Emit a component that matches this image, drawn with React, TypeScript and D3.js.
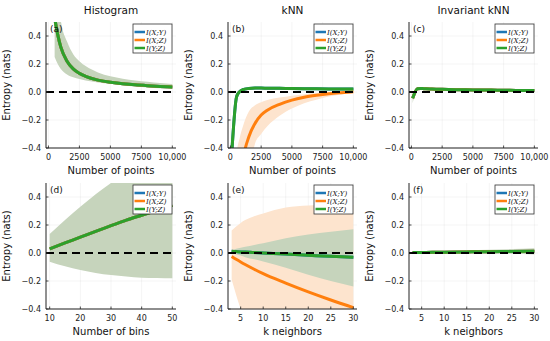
import React from 'react';
import * as d3 from 'd3';

// ---- data ----
const histN = [500, 750, 1000, 1500, 2000, 2500, 3000, 4000, 5000, 6000, 7000, 8000, 9000, 10000];
const histMean = [0.53, 0.41, 0.32, 0.22, 0.165, 0.133, 0.112, 0.085, 0.069, 0.059, 0.051, 0.045, 0.04, 0.036];
const histLo = [0.25, 0.2, 0.165, 0.125, 0.105, 0.092, 0.082, 0.068, 0.059, 0.049, 0.04, 0.033, 0.027, 0.021];
const histHi = [0.95, 0.7, 0.51, 0.36, 0.27, 0.22, 0.185, 0.14, 0.112, 0.095, 0.083, 0.073, 0.064, 0.057];

const knnN = [100, 500, 750, 1000, 1500, 2000, 2500, 3000, 4000, 5000, 6000, 7000, 8000, 9000, 10000];
const knnYZ = [-0.45, -0.035, 0.002, 0.016, 0.025, 0.028, 0.028, 0.027, 0.026, 0.025, 0.024, 0.023, 0.022, 0.021, 0.021];
const knnYZLo = [-0.55, -0.065, -0.008, 0.006, 0.016, 0.02, 0.021, 0.02, 0.02, 0.019, 0.018, 0.017, 0.016, 0.015, 0.015];
const knnYZHi = [-0.35, -0.005, 0.012, 0.026, 0.034, 0.036, 0.035, 0.034, 0.032, 0.031, 0.03, 0.029, 0.028, 0.027, 0.027];
const knnXZ = [-3, -1.0, -0.7, -0.5, -0.32, -0.225, -0.165, -0.13, -0.088, -0.058, -0.038, -0.024, -0.013, -0.005, 0.002];
const knnXZLo = [-4, -1.6, -1.2, -0.9, -0.6, -0.37, -0.3, -0.245, -0.17, -0.118, -0.08, -0.055, -0.033, -0.018, -0.006];
const knnXZHi = [-2, -0.45, -0.33, -0.25, -0.14, -0.095, -0.074, -0.058, -0.04, -0.026, -0.016, -0.008, -0.002, 0.003, 0.006];

const invN = [100, 500, 750, 1000, 1500, 2000, 2500, 3000, 4000, 5000, 6000, 7000, 8000, 9000, 10000];
const invYZ = [-0.045, 0.024, 0.025, 0.024, 0.022, 0.02, 0.019, 0.018, 0.016, 0.015, 0.014, 0.013, 0.012, 0.011, 0.01];
const invYZLo = [-0.08, 0.014, 0.017, 0.016, 0.014, 0.012, 0.011, 0.01, 0.008, 0.007, 0.006, 0.005, 0.004, 0.003, 0.002];
const invYZHi = [-0.01, 0.034, 0.033, 0.032, 0.03, 0.028, 0.027, 0.026, 0.024, 0.023, 0.022, 0.021, 0.02, 0.019, 0.018];

const bins = [10, 15, 20, 25, 30, 35, 40, 45, 50];
const binsYZ = [0.03, 0.072, 0.113, 0.155, 0.195, 0.235, 0.27, 0.305, 0.34];
const binsLo = [-0.062, -0.095, -0.121, -0.142, -0.157, -0.168, -0.176, -0.179, -0.181];
const binsHi = [0.135, 0.235, 0.33, 0.42, 0.5, 0.57, 0.63, 0.68, 0.72];

const kVals = [3, 4, 5, 6, 8, 10, 15, 20, 25, 30];
const kXZ = [-0.025, -0.045, -0.064, -0.082, -0.116, -0.148, -0.215, -0.278, -0.336, -0.39];
const kXZLo = [-0.19, -0.3, -0.4, -0.47, -0.58, -0.66, -0.8, -0.9, -0.98, -1.05];
const kXZHi = [0.16, 0.19, 0.215, 0.235, 0.263, 0.283, 0.325, 0.34, 0.345, 0.343];
const kYZ = [0.012, 0.01, 0.008, 0.007, 0.003, 0.0, -0.008, -0.016, -0.024, -0.03];
const kYZLo = [0.0, -0.01, -0.018, -0.03, -0.045, -0.06, -0.105, -0.155, -0.2, -0.24];
const kYZHi = [0.02, 0.03, 0.038, 0.045, 0.058, 0.07, 0.105, 0.133, 0.152, 0.17];

const invKYZ = [0.003, 0.003, 0.004, 0.004, 0.005, 0.006, 0.008, 0.009, 0.011, 0.012];
const invKYZLo = [-0.002, -0.003, -0.002, -0.003, -0.003, -0.003, -0.003, -0.005, -0.006, -0.01];
const invKYZHi = [0.008, 0.009, 0.01, 0.011, 0.013, 0.015, 0.019, 0.023, 0.028, 0.034];

const nTicks = [0, 2500, 5000, 7500, 10000];
const nTickLabels = ['0', '2500', '5000', '7500', '10,000'];
const binTicks = [10, 20, 30, 40, 50];
const kTicks = [5, 10, 15, 20, 25, 30];
const yTicks = [-0.4, -0.2, 0, 0.2, 0.4];
const yTickLabels = ['\u22120.4', '\u22120.2', '0.0', '0.2', '0.4'];
const legendNames = ['I(X;Y)', 'I(X;Z)', 'I(Y;Z)'];

const BLUE = '#1f77b4';
const ORANGE = '#ff7f0e';
const GREEN = '#2ca02c';
const PEACH = '#fde4ce';
const SAGE = '#c6d4bc';
const FONT = 'DejaVu Sans, sans-serif';

const cols = [{ left: 46, right: 176 }, { left: 228, right: 357 }, { left: 409, right: 538 }];
const rows = [{ top: 22, bottom: 148 }, { top: 183, bottom: 309 }];

type Series = { x: number[]; mean: number[]; lo?: number[]; hi?: number[]; color: string; fill?: string };
type PanelDef = {
  id: string; label: string; col: number; row: number; title?: string; xlabel: string;
  xDomain: [number, number]; xTicks: number[]; xTickLabels: string[]; series: Series[];
};

const panels: PanelDef[] = [
  {
    id: 'a', label: '(a)', col: 0, row: 0, title: 'Histogram', xlabel: 'Number of points',
    xDomain: [-197, 10297], xTicks: nTicks, xTickLabels: nTickLabels,
    series: [
      { x: histN, mean: histMean, color: BLUE },
      { x: histN, mean: histMean, color: ORANGE },
      { x: histN, mean: histMean, lo: histLo, hi: histHi, color: GREEN, fill: SAGE },
    ],
  },
  {
    id: 'b', label: '(b)', col: 1, row: 0, title: 'kNN', xlabel: 'Number of points',
    xDomain: [-197, 10297], xTicks: nTicks, xTickLabels: nTickLabels,
    series: [
      { x: knnN, mean: knnYZ, color: BLUE },
      { x: knnN, mean: knnXZ, lo: knnXZLo, hi: knnXZHi, color: ORANGE, fill: PEACH },
      { x: knnN, mean: knnYZ, lo: knnYZLo, hi: knnYZHi, color: GREEN, fill: SAGE },
    ],
  },
  {
    id: 'c', label: '(c)', col: 2, row: 0, title: 'Invariant kNN', xlabel: 'Number of points',
    xDomain: [-197, 10297], xTicks: nTicks, xTickLabels: nTickLabels,
    series: [
      { x: invN, mean: invYZ, color: BLUE },
      { x: invN, mean: invYZ, color: ORANGE },
      { x: invN, mean: invYZ, lo: invYZLo, hi: invYZHi, color: GREEN, fill: SAGE },
    ],
  },
  {
    id: 'd', label: '(d)', col: 0, row: 1, xlabel: 'Number of bins',
    xDomain: [8.8, 51.2], xTicks: binTicks, xTickLabels: binTicks.map(String),
    series: [
      { x: bins, mean: binsYZ, color: BLUE },
      { x: bins, mean: binsYZ, color: ORANGE },
      { x: bins, mean: binsYZ, lo: binsLo, hi: binsHi, color: GREEN, fill: SAGE },
    ],
  },
  {
    id: 'e', label: '(e)', col: 1, row: 1, xlabel: 'k neighbors',
    xDomain: [2.19, 30.81], xTicks: kTicks, xTickLabels: kTicks.map(String),
    series: [
      { x: kVals, mean: kYZ, color: BLUE },
      { x: kVals, mean: kXZ, lo: kXZLo, hi: kXZHi, color: ORANGE, fill: PEACH },
      { x: kVals, mean: kYZ, lo: kYZLo, hi: kYZHi, color: GREEN, fill: SAGE },
    ],
  },
  {
    id: 'f', label: '(f)', col: 2, row: 1, xlabel: 'k neighbors',
    xDomain: [2.19, 30.81], xTicks: kTicks, xTickLabels: kTicks.map(String),
    series: [
      { x: kVals, mean: invKYZ, color: BLUE },
      { x: kVals, mean: invKYZ, color: ORANGE },
      { x: kVals, mean: invKYZ, lo: invKYZLo, hi: invKYZHi, color: GREEN, fill: SAGE },
    ],
  },
];

function Panel({ p }: { p: PanelDef }) {
  const { left, right } = cols[p.col];
  const { top, bottom } = rows[p.row];
  const x = d3.scaleLinear().domain(p.xDomain).range([left, right]);
  const y = d3.scaleLinear().domain([-0.4, 0.5]).range([bottom, top]);
  const clipId = 'clip-' + p.id;

  const line = (s: Series) =>
    d3.line<number>().x((_, i) => x(s.x[i])).y(d => y(d)).curve(d3.curveMonotoneX)(s.mean) || '';
  const area = (s: Series) =>
    d3.area<number>()
      .x((_, i) => x(s.x[i]))
      .y0((_, i) => y(s.lo![i]))
      .y1((_, i) => y(s.hi![i]))
      .curve(d3.curveMonotoneX)(s.mean) || '';

  const lgX = right - 43;
  const lgY = top + 2;

  return (
    <g>
      <defs>
        <clipPath id={clipId}>
          <rect x={left} y={top} width={right - left} height={bottom - top} />
        </clipPath>
      </defs>
      {/* grid */}
      {p.xTicks.map(t => (
        <line key={'gx' + t} x1={x(t)} x2={x(t)} y1={top} y2={bottom} stroke="#000" strokeOpacity={0.08} strokeWidth={0.6} />
      ))}
      {yTicks.map(t => (
        <line key={'gy' + t} x1={left} x2={right} y1={y(t)} y2={y(t)} stroke="#000" strokeOpacity={0.08} strokeWidth={0.6} />
      ))}
      <g clipPath={`url(#${clipId})`}>
        {p.series.filter(s => s.lo).map((s, i) => (
          <path key={'band' + i} d={area(s)} fill={s.fill} stroke="none" />
        ))}
        {p.series.map((s, i) => (
          <path key={'ln' + i} d={line(s)} fill="none" stroke={s.color} strokeWidth={3} />
        ))}
        <line x1={left} x2={right} y1={y(0)} y2={y(0)} stroke="#000" strokeWidth={1.8} strokeDasharray="8,5" />
      </g>
      {/* axes */}
      <line x1={left} x2={left} y1={top} y2={bottom} stroke="#222" strokeWidth={1} />
      <line x1={left} x2={right} y1={bottom} y2={bottom} stroke="#222" strokeWidth={1} />
      {p.xTicks.map((t, i) => (
        <g key={'xt' + t}>
          <line x1={x(t)} x2={x(t)} y1={bottom} y2={bottom - 2.5} stroke="#222" strokeWidth={0.8} />
          <text x={x(t)} y={bottom + 11.5} fontSize={8} textAnchor="middle" fill="#222" fontFamily={FONT}>
            {p.xTickLabels[i]}
          </text>
        </g>
      ))}
      {yTicks.map((t, i) => (
        <g key={'yt' + t}>
          <line x1={left} x2={left + 2.5} y1={y(t)} y2={y(t)} stroke="#222" strokeWidth={0.8} />
          <text x={left - 5} y={y(t) + 3} fontSize={8} textAnchor="end" fill="#222" fontFamily={FONT}>
            {yTickLabels[i]}
          </text>
        </g>
      ))}
      <text x={left + 4} y={top + 10} fontSize={9} fill="#111" fontFamily={FONT}>{p.label}</text>
      {/* legend */}
      <rect x={lgX} y={lgY} width={39} height={29} fill="#fff" stroke="#333" strokeWidth={0.8} />
      {p.series.map((s, i) => (
        <g key={'lg' + i}>
          <line x1={lgX + 1.5} x2={lgX + 12} y1={lgY + 8 + i * 8} y2={lgY + 8 + i * 8} stroke={s.color} strokeWidth={2.5} />
          <text x={lgX + 13} y={lgY + 10.5 + i * 8} fontSize={7} fontStyle="italic" fill="#111" fontFamily="DejaVu Serif, serif">
            {legendNames[i]}
          </text>
        </g>
      ))}
      {/* labels */}
      {p.title && (
        <text x={(left + right) / 2} y={14} fontSize={10.5} textAnchor="middle" fill="#111" fontFamily={FONT}>{p.title}</text>
      )}
      <text x={(left + right) / 2} y={bottom + 25.5} fontSize={10} textAnchor="middle" fill="#111" fontFamily={FONT}>{p.xlabel}</text>
      <text transform={`translate(${left - 36},${(top + bottom) / 2}) rotate(-90)`} fontSize={10} textAnchor="middle" fill="#111" fontFamily={FONT}>
        Entropy (nats)
      </text>
    </g>
  );
}

export default function App() {
  return (
    <svg width={550} height={341} style={{ position: 'absolute', left: 0, top: 0, background: '#fff' }}>
      <rect width={550} height={341} fill="#fff" />
      {panels.map(p => <Panel key={p.id} p={p} />)}
    </svg>
  );
}
